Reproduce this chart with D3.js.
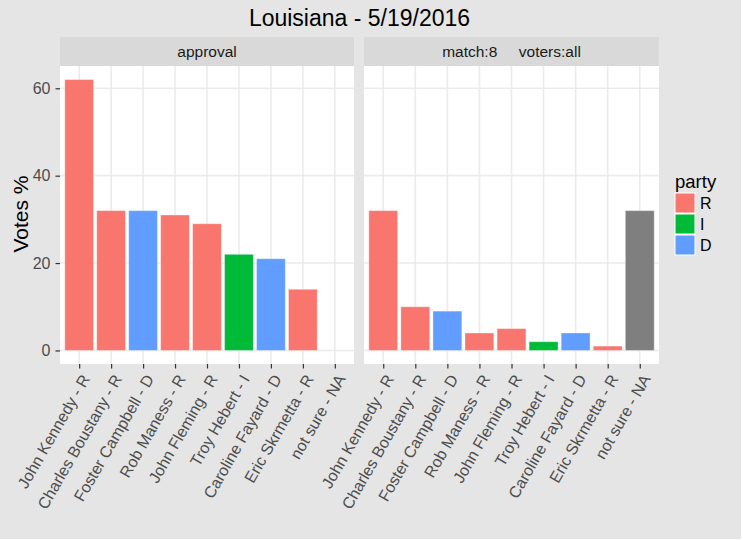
<!DOCTYPE html>
<html><head><meta charset="utf-8">
<script src="https://cdn.jsdelivr.net/npm/d3@7"></script>
<style>body{margin:0;background:#fff}svg{display:block;font-family:"Liberation Sans",Arial,sans-serif}</style>
</head><body><svg id="c" width="743" height="540"></svg>
<script>
const candidates = ["John Kennedy - R","Charles Boustany - R","Foster Campbell - D","Rob Maness - R","John Fleming - R","Troy Hebert - I","Caroline Fayard - D","Eric Skrmetta - R","not sure - NA"];
const parties = ["R","R","D","R","R","I","D","R","NA"];
const approvalValues = [62,32,32,31,29,22,21,14,null];
const matchValues = [32,10,9,4,5,2,4,1,32];
const facetLabels = ["approval","match:8     voters:all"];
const yTicks = [0,20,40,60];
const legendParties = ["R","I","D"];
const partyColors = {R:"#F8766D", I:"#00BA38", D:"#619CFF", NA:"#7F7F7F"};

(function(){
const svg = d3.select("#c");
svg.append("rect").attr("width",741).attr("height",539).attr("fill","#E5E5E5");

svg.append("text").attr("x",359.5).attr("y",26).attr("text-anchor","middle")
  .attr("font-size",23).attr("fill","#000").text("Louisiana - 5/19/2016");

const pTop = 66, pBottom = 364;
const y = d3.scaleLinear().domain([-3.1,65.1]).range([pBottom,pTop]);
const panels = [
  {x0:60, x1:354, values:approvalValues, label:facetLabels[0]},
  {x0:364, x1:659, values:matchValues, label:facetLabels[1]}
];

panels.forEach((p,pi)=>{
  const x = d3.scalePoint().domain(candidates).range([p.x0,p.x1]).padding(0.6);
  const bw = x.step()*0.9;
  svg.append("rect").attr("x",p.x0).attr("y",37).attr("width",p.x1-p.x0).attr("height",29).attr("fill","#D9D9D9");
  svg.append("text").attr("x",(p.x0+p.x1)/2).attr("y",57).attr("text-anchor","middle")
    .attr("font-size",15.5).attr("fill","#1A1A1A").style("white-space","pre").text(p.label);
  svg.append("rect").attr("x",p.x0).attr("y",pTop).attr("width",p.x1-p.x0).attr("height",pBottom-pTop).attr("fill","#fff");
  const g = svg.append("g");
  g.selectAll(".hg").data(yTicks).join("line")
    .attr("x1",p.x0).attr("x2",p.x1).attr("y1",d=>y(d)).attr("y2",d=>y(d))
    .attr("stroke","#EBEBEB").attr("stroke-width",1.6);
  g.selectAll(".vg").data(candidates).join("line")
    .attr("x1",d=>x(d)).attr("x2",d=>x(d)).attr("y1",pTop).attr("y2",pBottom)
    .attr("stroke","#EBEBEB").attr("stroke-width",1.6);
  const data = candidates.map((c,i)=>({c, v:p.values[i], party:parties[i]})).filter(d=>d.v!=null);
  g.selectAll(".bar").data(data).join("rect")
    .attr("x",d=>x(d.c)-bw/2).attr("width",bw)
    .attr("y",d=>y(d.v)).attr("height",d=>y(0)-y(d.v))
    .attr("fill",d=>partyColors[d.party])
    .attr("stroke","#fff").attr("stroke-opacity",0.35).attr("stroke-width",1);
  const ax = svg.append("g").attr("transform",`translate(0,${pBottom})`)
    .call(d3.axisBottom(x).tickSize(4.5).tickSizeOuter(0).tickPadding(3));
  ax.select(".domain").remove();
  ax.selectAll(".tick line").attr("stroke","#333").attr("stroke-width",1.2);
  ax.selectAll(".tick text").attr("font-size",16).attr("fill","#4D4D4D")
    .attr("text-anchor","end").attr("y",null)
    .attr("transform","translate(6,12) rotate(-60)").attr("dy","0.35em");
  if(pi===0){
    const ay = svg.append("g").attr("transform",`translate(${p.x0},0)`)
      .call(d3.axisLeft(y).tickValues(yTicks).tickSize(4.5).tickPadding(5));
    ay.select(".domain").remove();
    ay.selectAll(".tick line").attr("stroke","#333").attr("stroke-width",1.2);
    ay.selectAll(".tick text").attr("font-size",16).attr("fill","#4D4D4D");
  }
});

svg.append("text").attr("transform","translate(28,214) rotate(-90)").attr("text-anchor","middle")
  .attr("font-size",21).attr("fill","#000").text("Votes %");

const lg = svg.append("g");
lg.append("text").attr("x",675).attr("y",188).attr("font-size",18.5).attr("fill","#000").text("party");
const ks = 21;
legendParties.forEach((pt,i)=>{
  lg.append("rect").attr("x",675).attr("y",193+i*ks).attr("width",ks-1).attr("height",ks-1)
    .attr("fill",partyColors[pt]).attr("stroke","#fff").attr("stroke-width",1);
  lg.append("text").attr("x",700).attr("y",193+i*ks+ks/2).attr("dy","0.35em")
    .attr("font-size",16).attr("fill","#000").text(pt);
});
})();
</script></body></html>
